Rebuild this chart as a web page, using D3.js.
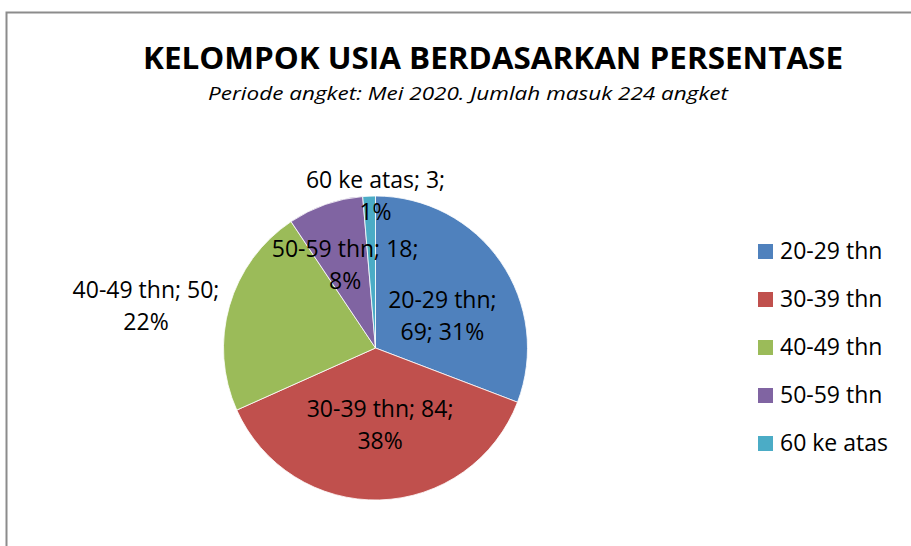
<!DOCTYPE html>
<html>
<head>
<meta charset="utf-8">
<script src="https://cdn.jsdelivr.net/npm/d3@7"></script>
<style>
  html, body { margin: 0; padding: 0; background: #fff; }
  svg { display: block; }
  text { font-family: "Open Sans", "Noto Sans", sans-serif; fill: #000; }
</style>
</head>
<body>
<svg id="chart" width="911" height="546"></svg>
<script>
// ---- data ----
const categories = ["20-29 thn", "30-39 thn", "40-49 thn", "50-59 thn", "60 ke atas"];
const counts = [69, 84, 50, 18, 3];
const percentLabels = ["31%", "38%", "22%", "8%", "1%"];
const colors = ["#4F81BD", "#C0504D", "#9BBB59", "#8064A2", "#4BACC6"];
const titleText = "KELOMPOK USIA BERDASARKAN PERSENTASE";
const subtitleText = "Periode angket: Mei 2020. Jumlah masuk 224 angket";

// label line splits (how Excel wrapped each label)
const labelLines = [
  [categories[0] + ";", counts[0] + "; " + percentLabels[0]],
  [categories[1] + "; " + counts[1] + ";", percentLabels[1]],
  [categories[2] + "; " + counts[2] + ";", percentLabels[2]],
  [categories[3] + "; " + counts[3] + ";", percentLabels[3]],
  [categories[4] + "; " + counts[4] + ";", percentLabels[4]]
];

// ---- layout ----
const W = 911, H = 546;
const cx = 375.5, cy = 348, R = 152;
// label anchor (first baseline) relative to pie centre, in units of R
const labelAnchor = [
  [0.44, -0.26], [0.03, 0.455], [-1.51, -0.33], [-0.20, -0.60], [0.0, -1.053]
];
const lineGap = 32;

const svg = d3.select("#chart");

// chart frame
svg.append("rect")
  .attr("x", 6.5).attr("y", 12.5)
  .attr("width", W + 20).attr("height", H + 20)
  .attr("fill", "#fff")
  .attr("stroke", "#8c8c8c").attr("stroke-width", 2);

// title
svg.append("text")
  .attr("x", 143).attr("y", 69)
  .attr("font-size", 29.5).attr("font-weight", 700)
  .attr("textLength", 700).attr("lengthAdjust", "spacingAndGlyphs")
  .text(titleText);

svg.append("text")
  .attr("x", 208).attr("y", 100)
  .attr("font-size", 19).attr("font-style", "italic")
  .attr("textLength", 520).attr("lengthAdjust", "spacingAndGlyphs")
  .text(subtitleText);

// pie
const pie = d3.pie().sort(null).value(d => d.value);
const arcs = pie(categories.map((c, i) => ({ cat: c, value: counts[i], i })));
const arc = d3.arc().innerRadius(0).outerRadius(R);

const g = svg.append("g").attr("transform", `translate(${cx},${cy})`);
g.selectAll("path.slice")
  .data(arcs)
  .join("path")
  .attr("class", "slice")
  .attr("d", arc)
  .attr("fill", d => colors[d.data.i])
  .attr("stroke", "#fff")
  .attr("stroke-width", 0.8);

// data labels
const lbl = g.selectAll("text.lbl")
  .data(arcs)
  .join("text")
  .attr("class", "lbl")
  .attr("text-anchor", "middle")
  .attr("font-size", 23);
lbl.each(function (d) {
  const t = d3.select(this);
  const a = labelAnchor[d.data.i];
  labelLines[d.data.i].forEach((ln, k) => {
    t.append("tspan")
      .attr("x", a[0] * R)
      .attr("y", a[1] * R + k * lineGap)
      .text(ln);
  });
});

// legend
const legend = svg.append("g").attr("transform", "translate(758,244)");
const items = legend.selectAll("g.item")
  .data(categories)
  .join("g")
  .attr("class", "item")
  .attr("transform", (d, i) => `translate(0,${i * 48})`);
items.append("rect")
  .attr("width", 15).attr("height", 15)
  .attr("fill", (d, i) => colors[i]);
items.append("text")
  .attr("x", 22).attr("y", 14.5)
  .attr("font-size", 23)
  .text(d => d);
</script>
</body>
</html>
